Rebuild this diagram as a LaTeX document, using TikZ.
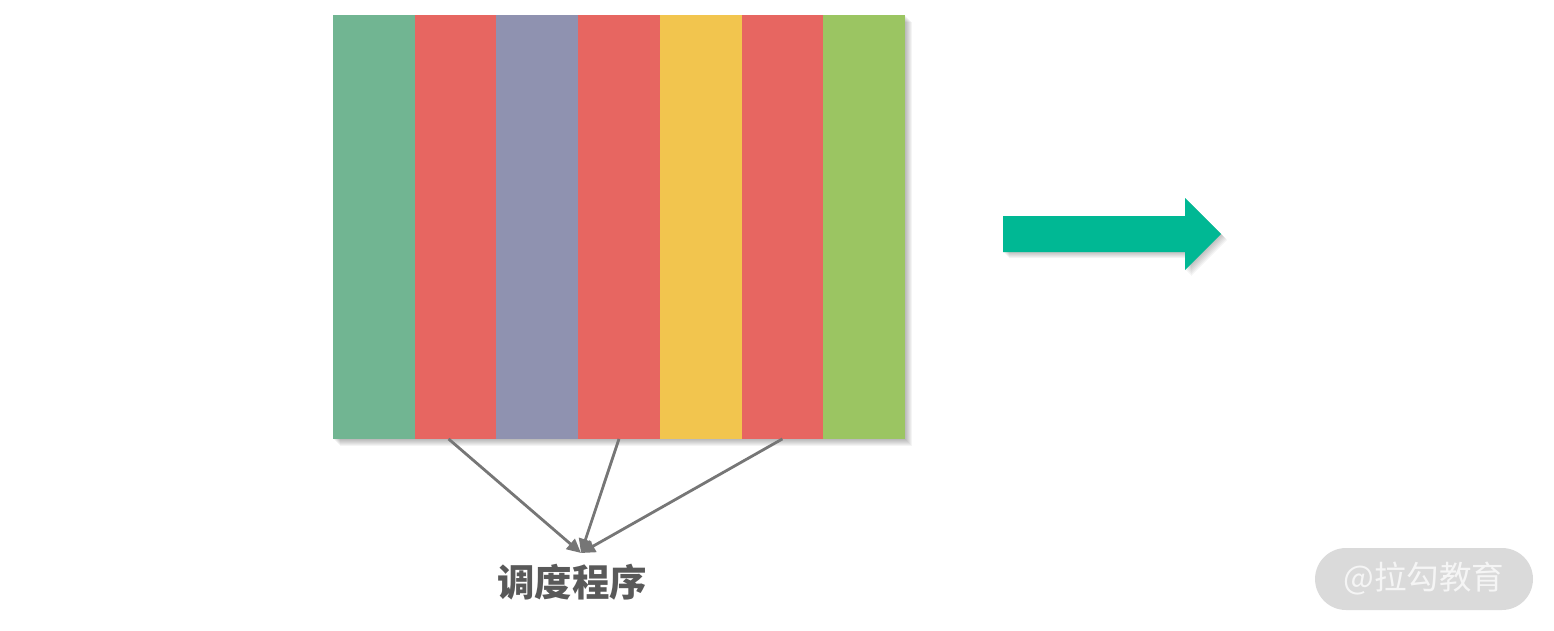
\documentclass[tikz,border=0pt]{standalone}
\usepackage{fontspec}
\newfontfamily\cjk{Noto Sans CJK SC}
\usetikzlibrary{arrows.meta,positioning}
\definecolor{jobgreen}{HTML}{71B592}
\definecolor{jobred}{HTML}{E76661}
\definecolor{jobpurple}{HTML}{8F92B0}
\definecolor{jobyellow}{HTML}{F2C54E}
\definecolor{joblime}{HTML}{9BC562}
\definecolor{feedgray}{HTML}{767676}
\definecolor{labelgray}{HTML}{595959}
\definecolor{moveteal}{HTML}{00B894}
\definecolor{markgray}{HTML}{DADADA}
\tikzset{
	stripe/.style = {minimum width = 1.634cm, minimum height = 8.48cm, inner sep = 0, outer sep = 0},
	feed/.style = {draw = feedgray, line width = 1.6pt, -{Triangle[length = 8pt, width = 7.5pt]}},
}
\begin{document}
\begin{tikzpicture}[x = 0.02cm, y = -0.02cm]
	\useasboundingbox (0, 0) rectangle (1554, 630);
	% soft shadow behind the block
	\foreach \d in {1, ..., 7}{
		\fill [black, opacity = 0.045] (333 + \d, 15 + \d) rectangle (905 + \d, 439 + \d);}
	\foreach \col [count = \i] in {jobgreen, jobred, jobpurple, jobred, jobyellow, jobred, joblime}{
		\node [stripe, fill = \col, anchor = north west] (s\i) at ({333 + (\i - 1) * 81.71}, 15) {};}
	% label and feeding arrows
	\node [text = labelgray, font = \cjk\bfseries\fontsize{21.3}{24}\selectfont] (sched) at (572, 582) {调度程序};
	\coordinate (hit) at (581, 553);
	\draw [feed] ([xshift = -0.14cm]s2.south) -- (hit);
	\draw [feed] (s4.south) -- (hit);
	\draw [feed] (s6.south) -- (hit);
	% big arrow
	\foreach \d in {1, ..., 6}{
		\fill [black, opacity = 0.045, shift = {(\d, \d)}] (1003, 216) -- (1185, 216) -- (1185, 198) -- (1221, 234) -- (1185, 270) -- (1185, 252) -- (1003, 252) -- cycle;}
	\fill [moveteal] (1003, 216) -- (1185, 216) -- (1185, 198) -- (1221, 234) -- (1185, 270) -- (1185, 252) -- (1003, 252) -- cycle;
	% watermark
	\node [fill = markgray, rounded corners = 0.62cm, minimum width = 4.36cm, minimum height = 1.24cm, text = white!96!black, font = \cjk\fontsize{18.5}{22}\selectfont] (mark) at (1424, 579) {@拉勾教育};
\end{tikzpicture}
\end{document}
